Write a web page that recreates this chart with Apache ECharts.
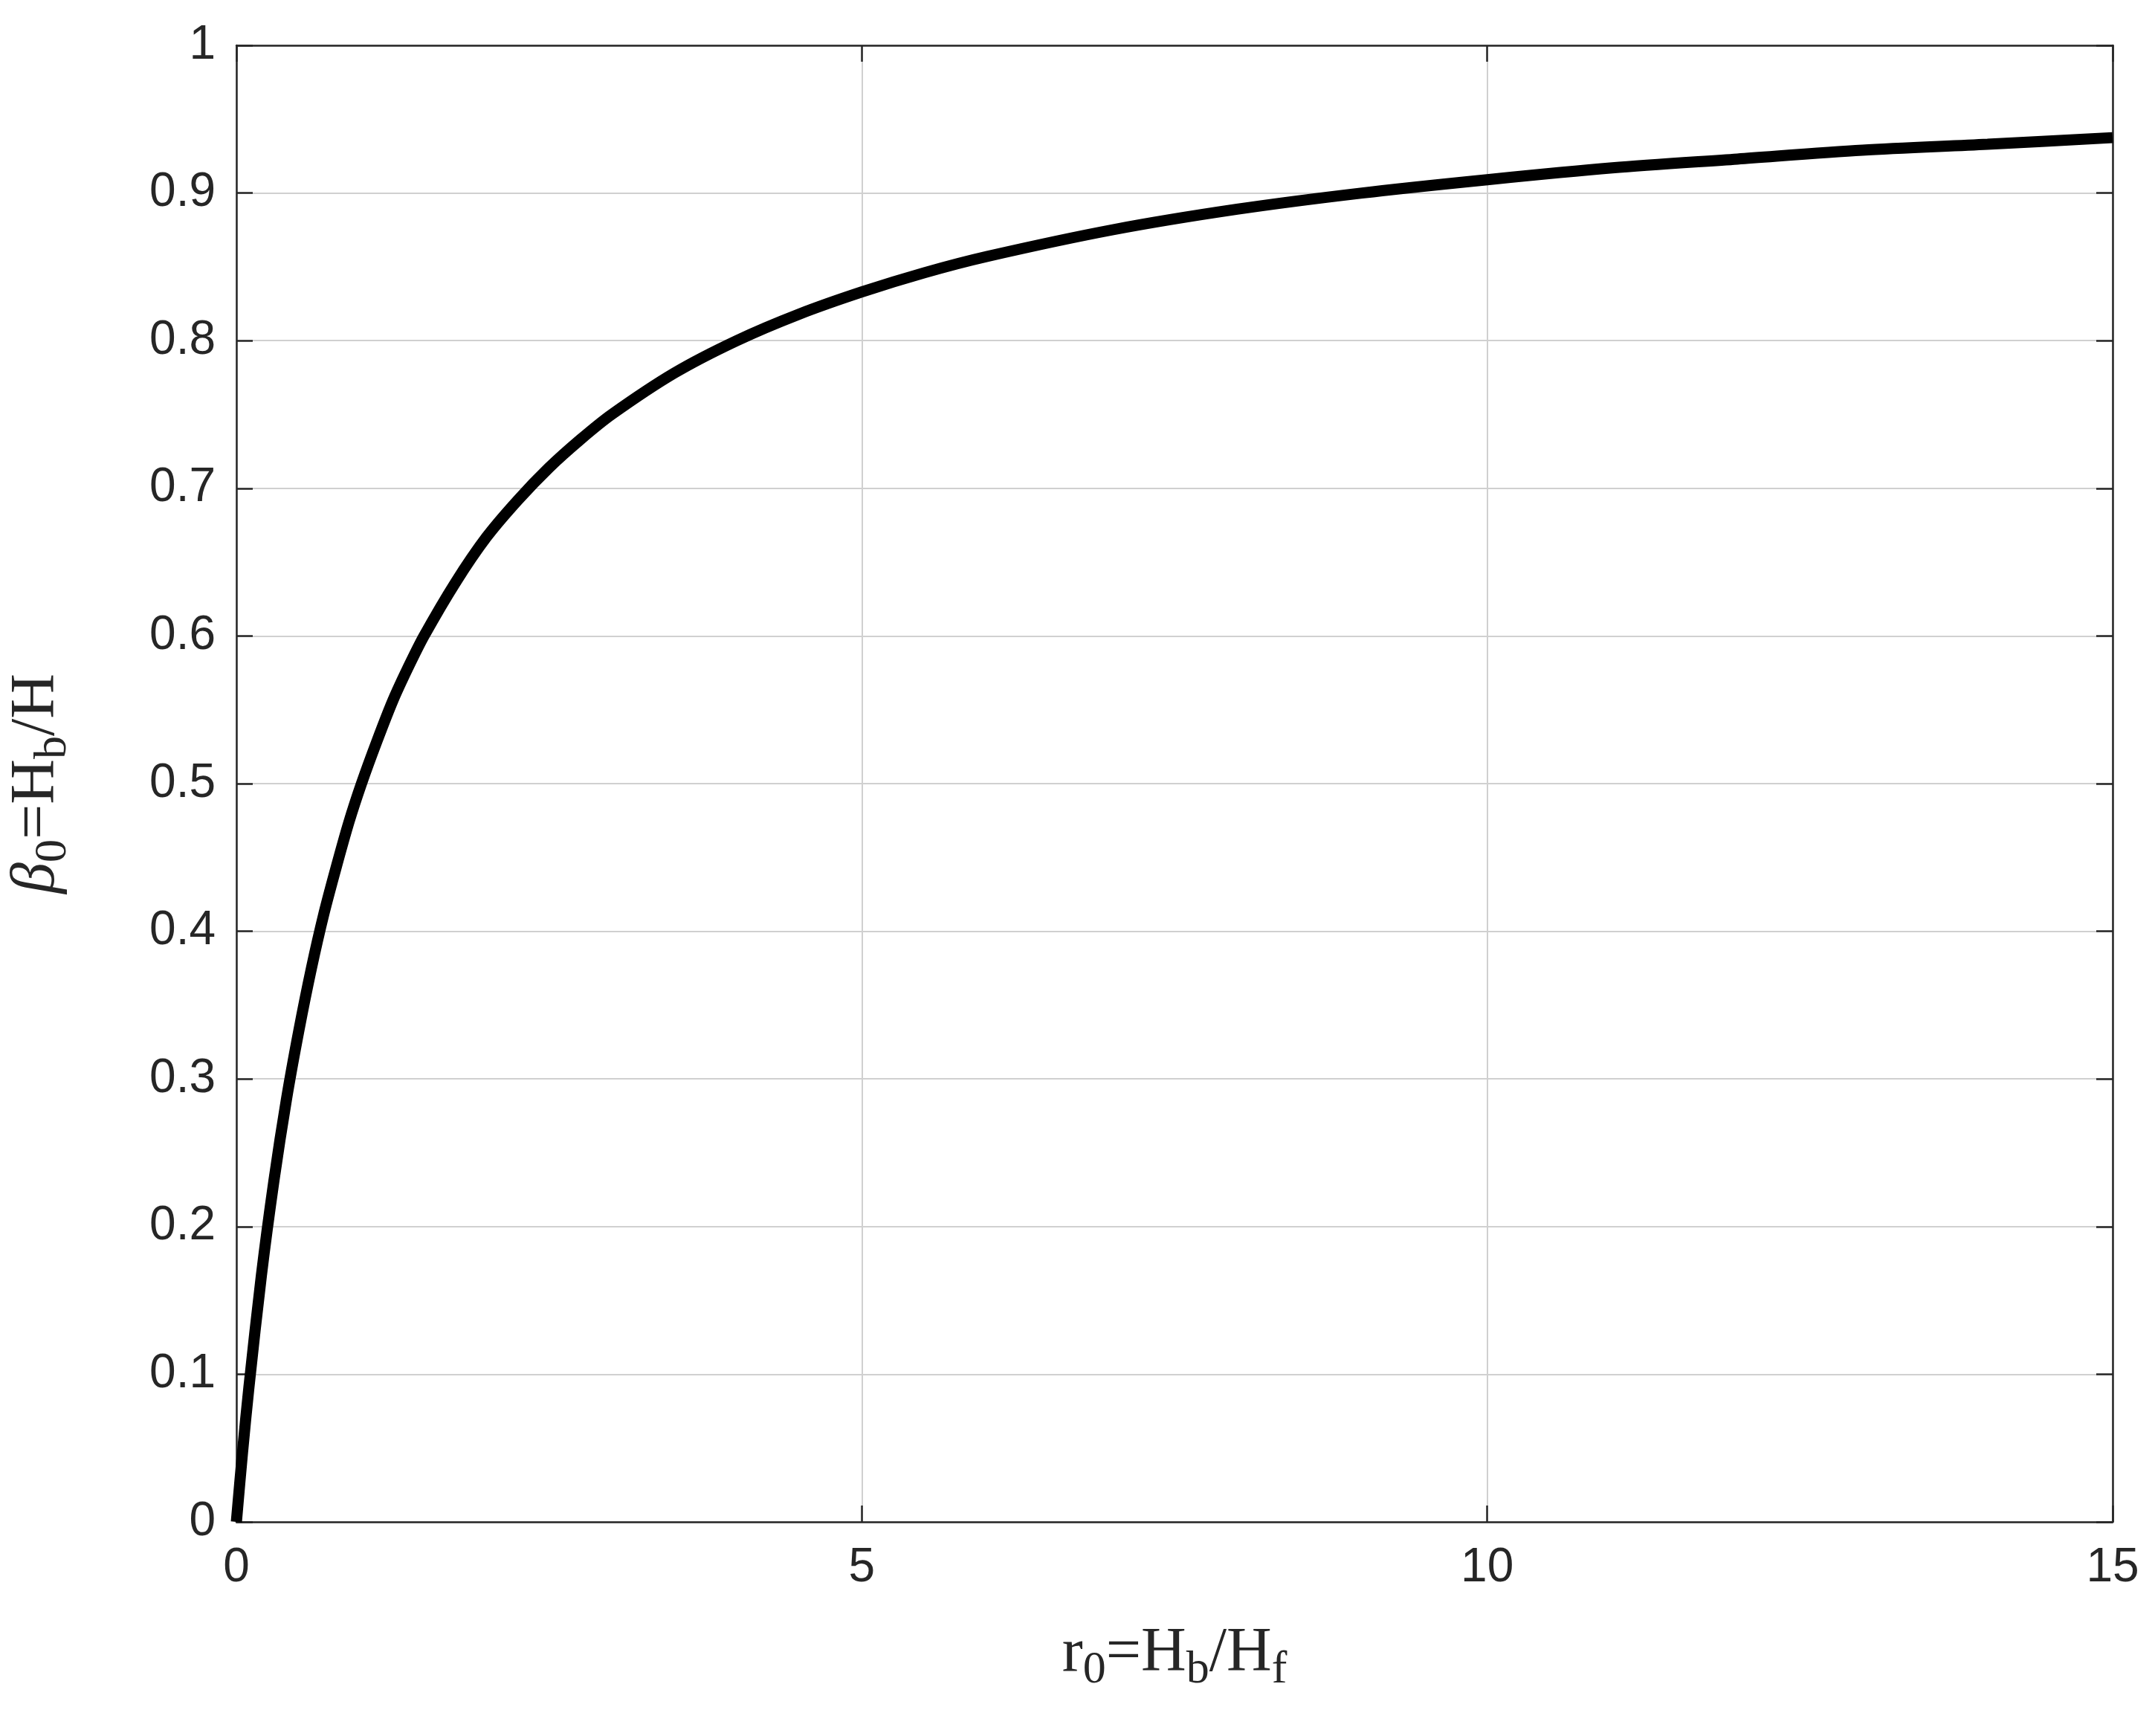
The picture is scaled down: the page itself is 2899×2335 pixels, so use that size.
<!DOCTYPE html>
<html><head><meta charset="utf-8">
<script src="https://cdn.jsdelivr.net/npm/echarts@6/dist/echarts.min.js"></script>
<style>html,body{margin:0;background:#fff}#c{width:2899px;height:2335px}</style>
</head><body><div id="c"></div>
<script>
const rValues=[0,0.05,0.1,0.2,0.3,0.4,0.5,0.6,0.7,0.8,0.9,1,1.125,1.25,1.375,1.5,1.75,2,2.25,2.5,2.75,3,3.5,4,4.5,5,5.5,6,7,8,9,10,11,12,13,14,15];
const betaValues=[0,0.048,0.091,0.167,0.231,0.286,0.333,0.375,0.412,0.444,0.474,0.5,0.529,0.556,0.579,0.6,0.636,0.667,0.692,0.714,0.733,0.75,0.778,0.8,0.818,0.833,0.846,0.857,0.875,0.889,0.9,0.909,0.917,0.923,0.929,0.933,0.9375];
const yTicks=[0,0.1,0.2,0.3,0.4,0.5,0.6,0.7,0.8,0.9,1];
const xTicks=[0,5,10,15];
const data=rValues.map((r,i)=>[r,betaValues[i]]);
const chart=echarts.init(document.getElementById('c'));
const lab={fontFamily:'Liberation Sans',fontSize:64,color:'#262626'};
const axisBase={axisLine:{show:true,onZero:false,lineStyle:{color:'#262626',width:2.5}},axisTick:{show:true,inside:true,length:22,lineStyle:{color:'#262626',width:2.5}}};
const rich={n:{fontFamily:'Liberation Serif',fontSize:84,color:'#262626'},s:{fontFamily:'Liberation Serif',fontSize:62,color:'#262626',padding:[44,0,0,0]},b:{fontFamily:'Liberation Serif',fontStyle:'italic',fontSize:84,color:'#262626'}};
chart.setOption({
 animation:false,
 grid:{left:314,right:57,top:61,bottom:288},
 xAxis:[
  Object.assign({type:'value',min:0,max:15,interval:5,position:'bottom',
   axisLabel:Object.assign({margin:30},lab),
   splitLine:{show:true,lineStyle:{color:'#d0d0d0',width:2}},
   name:'{n|r}{s|0}{n|=H}{s|b}{n|/H}{s|f}',nameLocation:'middle',nameGap:125,nameTextStyle:{rich}},axisBase),
  Object.assign({type:'value',min:0,max:15,interval:5,position:'top',axisLabel:{show:false},splitLine:{show:false}},axisBase)
 ],
 yAxis:[
  Object.assign({type:'value',min:0,max:1,interval:0.1,position:'left',
   axisLabel:Object.assign({margin:28,formatter:v=>String(+v.toFixed(1))},lab),
   splitLine:{show:true,lineStyle:{color:'#d0d0d0',width:2}},
   name:'{b|β}{s|0}{n|=H}{s|b}{n|/H}',nameLocation:'middle',nameGap:215,nameRotate:90,nameTextStyle:{rich}},axisBase),
  Object.assign({type:'value',min:0,max:1,interval:0.1,position:'right',axisLabel:{show:false},splitLine:{show:false}},axisBase)
 ],
 series:[{type:'line',data,smooth:0.3,showSymbol:false,lineStyle:{color:'#000',width:15},clip:true}]
});
</script></body></html>
